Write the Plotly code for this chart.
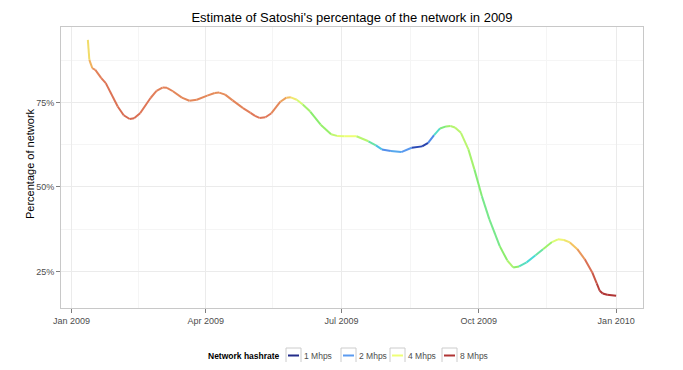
import plotly.graph_objects as go
from plotly.colors import sample_colorscale
import math

# ---- data ----
dates = ["2009-01-12", "2009-01-13", "2009-01-15", "2009-01-17", "2009-01-21", "2009-01-24",
         "2009-02-01", "2009-02-05", "2009-02-09", "2009-02-12", "2009-02-16", "2009-02-23",
         "2009-02-27", "2009-03-03", "2009-03-06", "2009-03-10", "2009-03-16", "2009-03-21",
         "2009-03-26", "2009-04-02", "2009-04-07", "2009-04-10", "2009-04-14", "2009-04-19",
         "2009-04-26", "2009-05-01", "2009-05-04", "2009-05-07", "2009-05-11", "2009-05-15",
         "2009-05-21", "2009-05-25", "2009-05-28", "2009-06-01", "2009-06-05", "2009-06-10",
         "2009-06-17", "2009-06-24", "2009-06-28", "2009-07-03", "2009-07-11", "2009-07-19",
         "2009-07-24", "2009-07-28", "2009-08-03", "2009-08-10", "2009-08-17", "2009-08-24",
         "2009-08-28", "2009-09-01", "2009-09-05", "2009-09-09", "2009-09-12", "2009-09-15",
         "2009-09-19", "2009-09-24", "2009-09-28", "2009-10-03", "2009-10-08", "2009-10-15",
         "2009-10-20", "2009-10-24", "2009-10-28", "2009-11-02", "2009-11-08", "2009-11-13",
         "2009-11-19", "2009-11-23", "2009-11-27", "2009-12-01", "2009-12-06", "2009-12-11",
         "2009-12-16", "2009-12-19", "2009-12-21", "2009-12-23", "2009-12-26", "2010-01-01"]
share_pct = [93.5, 87.6, 85.1, 84.6, 82.2, 80.7,
             73.8, 71.2, 70.1, 70.3, 71.8, 76.3,
             78.4, 79.4, 79.3, 78.3, 76.4, 75.5,
             75.8, 77.0, 77.8, 77.9, 77.3, 75.6,
             73.3, 71.9, 71.0, 70.4, 70.6, 71.8,
             75.2, 76.4, 76.5, 75.8, 74.4, 72.3,
             68.4, 65.6, 65.1, 65.0, 65.0, 63.5,
             62.3, 61.1, 60.6, 60.3, 61.6, 62.0,
             63.0, 65.3, 67.3, 67.9, 68.0, 67.6,
             66.0, 61.1, 55.2, 47.3, 40.5, 32.5,
             28.3, 26.2, 26.5, 27.7, 29.8, 31.6,
             33.7, 34.5, 34.3, 33.6, 31.6, 28.6,
             24.7, 21.5, 19.3, 18.5, 18.1, 17.8]
hashrate = [4.2, 4.6, 5.3, 5.6, 5.8, 5.9,
            6.1, 6.2, 6.3, 6.2, 6.0, 5.8,
            5.7, 5.7, 5.7, 5.6, 5.6, 5.6,
            5.6, 5.6, 5.5, 5.5, 5.5, 5.6,
            5.7, 5.8, 5.9, 5.9, 5.9, 5.8,
            5.4, 5.0, 4.5, 4.0, 3.6, 3.3,
            3.2, 3.5, 3.8, 4.0, 4.0, 3.2,
            2.6, 2.1, 1.7, 2.6, 1.5, 1.0,
            1.4, 2.4, 3.0, 3.3, 3.5, 3.6,
            3.6, 3.6, 3.3, 3.1, 3.0, 3.1,
            3.4, 3.6, 3.0, 2.5, 2.7, 3.1,
            3.7, 4.0, 4.2, 4.4, 5.0, 5.7,
            6.5, 7.2, 8.0, 8.3, 8.5, 8.6]
legend_rates = [1, 2, 4, 8]
legend_labels = ["1 Mhps", "2 Mhps", "4 Mhps", "8 Mhps"]
y_ticks = [25, 50, 75]
y_tick_labels = ["25%", "50%", "75%"]
x_ticks = ["2009-01-01", "2009-04-01", "2009-07-01", "2009-10-01", "2010-01-01"]
x_tick_labels = ["Jan 2009", "Apr 2009", "Jul 2009", "Oct 2009", "Jan 2010"]

# ---- colour scale on log2(hashrate) ----
colorscale = [
    [0.0, "#232C8A"],
    [0.18, "#2F5FD8"],
    [0.333, "#5B9BF0"],
    [0.45, "#44D8E0"],
    [0.57, "#8CEE6A"],
    [0.667, "#EEFF77"],
    [0.75, "#F4BE5E"],
    [0.85, "#E07858"],
    [1.0, "#B03434"],
]


def rate_color(r):
    t = math.log2(max(r, 1.0)) / 3.0
    t = min(max(t, 0.0), 1.0)
    return sample_colorscale(colorscale, [t])[0]


fig = go.Figure()
for i in range(len(dates) - 1):
    mid = (hashrate[i] * hashrate[i + 1]) ** 0.5
    fig.add_trace(go.Scatter(
        x=dates[i:i + 2], y=share_pct[i:i + 2], mode="lines",
        line=dict(color=rate_color(mid), width=2),
        showlegend=False, hoverinfo="skip"))

# ---- geometry (page body has an 8px margin) ----
OFF = 8
W, H = 667, 354
L, T = 61 - OFF, 27 - OFF
R = W - (643 - OFF)
B = H - (308 - OFF)
pw, ph = W - L - R, H - T - B


def px_x(px):
    return (px - OFF - L) / pw


def px_y(py):
    return (H - B - (py - OFF)) / ph


shapes = []
annotations = []
key_left = [286, 341, 390, 442]
ly = 355.5
annotations.append(dict(text="<b>Network hashrate</b>", xref="paper", yref="paper",
                        x=px_x(282), y=px_y(ly), xanchor="right", yanchor="middle",
                        showarrow=False, font=dict(size=8.5, color="black")))
for kx, r, lab in zip(key_left, legend_rates, legend_labels):
    shapes.append(dict(type="rect", xref="paper", yref="paper",
                       x0=px_x(kx), x1=px_x(kx + 15), y0=px_y(ly - 7.5), y1=px_y(ly + 7.5),
                       line=dict(color="#CCCCCC", width=1), fillcolor="white"))
    shapes.append(dict(type="line", xref="paper", yref="paper",
                       x0=px_x(kx + 2), x1=px_x(kx + 13), y0=px_y(ly), y1=px_y(ly),
                       line=dict(color=rate_color(r), width=2)))
    annotations.append(dict(text=lab, xref="paper", yref="paper",
                            x=px_x(kx + 16), y=px_y(ly), xanchor="left", yanchor="middle",
                            showarrow=False, font=dict(size=8.5, color="#4D4D4D")))
# y-axis title
annotations.append(dict(text="Percentage of network", xref="paper", yref="paper",
                        x=px_x(30), y=px_y(164), xanchor="center", yanchor="middle",
                        textangle=-90, showarrow=False, font=dict(size=11, color="black")))

grid = "#EBEBEB"
fig.update_layout(
    width=W, height=H,
    margin=dict(l=L, r=R, t=T, b=B, pad=0),
    paper_bgcolor="white", plot_bgcolor="white",
    showlegend=False,
    font=dict(family="Liberation Sans, Arial, sans-serif", color="#4D4D4D", size=9),
    title=dict(text="Estimate of Satoshi's percentage of the network in 2009",
               xref="container", yref="container",
               x=(352 - OFF) / W, xanchor="center", y=1 - (17 - OFF) / H, yanchor="middle",
               font=dict(size=13, color="black")),
    xaxis=dict(
        range=["2008-12-25", "2010-01-19"], type="date",
        tickvals=x_ticks, ticktext=x_tick_labels, automargin=False,
        ticks="outside", ticklen=4, tickcolor="#7F7F7F", tickwidth=1,
        showgrid=True, gridcolor=grid, gridwidth=1,
        minor=dict(tickvals=["2009-02-15", "2009-05-16", "2009-08-16", "2009-11-15"],
                   showgrid=True, gridcolor="#F5F5F5", gridwidth=1, ticks=""),
        showline=True, linecolor="#C8C8C8", linewidth=1, mirror=True,
        zeroline=False, tickfont=dict(size=9, color="#4D4D4D"),
    ),
    yaxis=dict(
        range=[14.2, 97.3], automargin=False,
        tickvals=y_ticks, ticktext=y_tick_labels,
        ticks="outside", ticklen=4, tickcolor="#7F7F7F", tickwidth=1,
        showgrid=True, gridcolor=grid, gridwidth=1,
        minor=dict(tickvals=[37.5, 62.5, 87.5], showgrid=True,
                   gridcolor="#F5F5F5", gridwidth=1, ticks=""),
        showline=True, linecolor="#C8C8C8", linewidth=1, mirror=True,
        zeroline=False, tickfont=dict(size=9, color="#4D4D4D"),
    ),
    shapes=shapes,
    annotations=annotations,
)

fig.write_html("out.html")
